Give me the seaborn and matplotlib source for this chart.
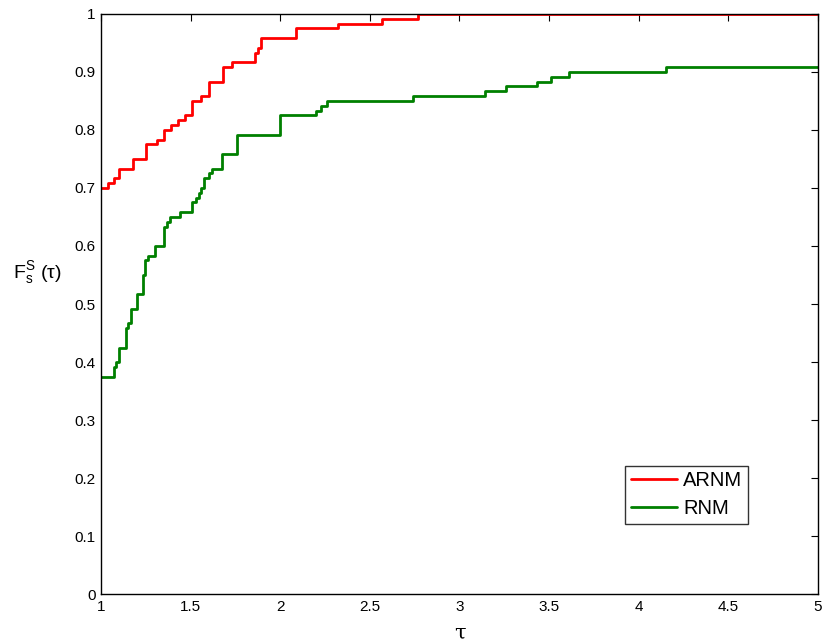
import matplotlib
matplotlib.use("Agg")
import matplotlib.pyplot as plt
import seaborn as sns
import pandas as pd
import numpy as np

sns.set_theme(style="white")
plt.rcParams['font.family'] = ['Liberation Sans', 'DejaVu Sans']
plt.rcParams['mathtext.fontset'] = 'custom'
plt.rcParams['mathtext.rm'] = 'Liberation Sans'
plt.rcParams['text.color'] = 'black'
plt.rcParams['axes.labelcolor'] = 'black'

# performance profile step points (tau, fraction of solved problems)
tau_arnm = [1.00, 1.04, 1.07, 1.10, 1.18, 1.25, 1.31, 1.35, 1.39, 1.43, 1.47, 1.51,
            1.56, 1.60, 1.68, 1.73, 1.86, 1.875, 1.89, 2.09, 2.32, 2.57, 2.77, 5.00]
val_arnm = [0.700, 0.708, 0.717, 0.733, 0.750, 0.775, 0.783, 0.800, 0.808, 0.817, 0.825, 0.850,
            0.858, 0.883, 0.908, 0.917, 0.933, 0.942, 0.958, 0.975, 0.983, 0.992, 1.000, 1.000]

tau_rnm = [1.00, 1.07, 1.085, 1.10, 1.14, 1.15, 1.17, 1.20, 1.235, 1.245, 1.26, 1.30,
           1.35, 1.37, 1.385, 1.44, 1.51, 1.53, 1.545, 1.56, 1.575, 1.60, 1.62, 1.675,
           1.76, 2.00, 2.20, 2.23, 2.26, 2.74, 3.14, 3.26, 3.43, 3.51, 3.61, 4.15, 5.00]
val_rnm = [0.375, 0.392, 0.400, 0.425, 0.458, 0.467, 0.492, 0.517, 0.550, 0.575, 0.583, 0.600,
           0.633, 0.642, 0.650, 0.658, 0.675, 0.683, 0.692, 0.700, 0.717, 0.725, 0.733, 0.758,
           0.792, 0.825, 0.833, 0.842, 0.850, 0.858, 0.867, 0.875, 0.883, 0.892, 0.900, 0.908, 0.908]

x_ticks = [1, 1.5, 2, 2.5, 3, 3.5, 4, 4.5, 5]
x_labels = ['1', '1.5', '2', '2.5', '3', '3.5', '4', '4.5', '5']
y_ticks = [0, 0.1, 0.2, 0.3, 0.4, 0.5, 0.6, 0.7, 0.8, 0.9, 1]
y_labels = ['0', '0.1', '0.2', '0.3', '0.4', '0.5', '0.6', '0.7', '0.8', '0.9', '1']

df = pd.concat([
    pd.DataFrame({'tau': tau_arnm, 'rho': val_arnm, 'Method': 'ARNM'}),
    pd.DataFrame({'tau': tau_rnm, 'rho': val_rnm, 'Method': 'RNM'}),
])

fig = plt.figure(figsize=(8.25, 6.44), dpi=100)
ax = fig.add_axes([0.1224, 0.0776, 0.8691, 0.9007])

sns.lineplot(data=df, x='tau', y='rho', hue='Method', palette={'ARNM': '#ff0000', 'RNM': '#008000'},
             estimator=None, sort=False, drawstyle='steps-post', linewidth=2.0, ax=ax)

ax.set_xlim(1, 5)
ax.set_ylim(0, 1)
ax.set_xticks(x_ticks)
ax.set_xticklabels(x_labels)
ax.set_yticks(y_ticks)
ax.set_yticklabels(y_labels)
ax.tick_params(direction='in', length=5, width=0.8, top=True, right=True,
               labelsize=11, colors='black', pad=4)
for s in ax.spines.values():
    s.set_color('black')
    s.set_linewidth(1.0)

ax.set_xlabel('τ', fontsize=15, family=['DejaVu Serif'], va='center')
ax.xaxis.set_label_coords(0.5, -0.068)
ax.set_ylabel(r'$\mathregular{F_s^S}$ (τ)', fontsize=14, rotation=0, ha='center', va='center')
ax.yaxis.set_label_coords(-0.089, 0.555)

leg = ax.legend(loc='upper left', bbox_to_anchor=(0.731, 0.221), borderaxespad=0,
                frameon=True, fancybox=False, fontsize=14.5, handlelength=2.3,
                handletextpad=0.3, borderpad=0.28, labelspacing=0.42)
leg.get_frame().set_edgecolor('black')
leg.get_frame().set_linewidth(1.0)
leg.set_title(None)
for line in leg.get_lines():
    line.set_linewidth(2.0)
for t in leg.get_texts():
    t.set_color('black')

fig.savefig('out.png', dpi=100)
